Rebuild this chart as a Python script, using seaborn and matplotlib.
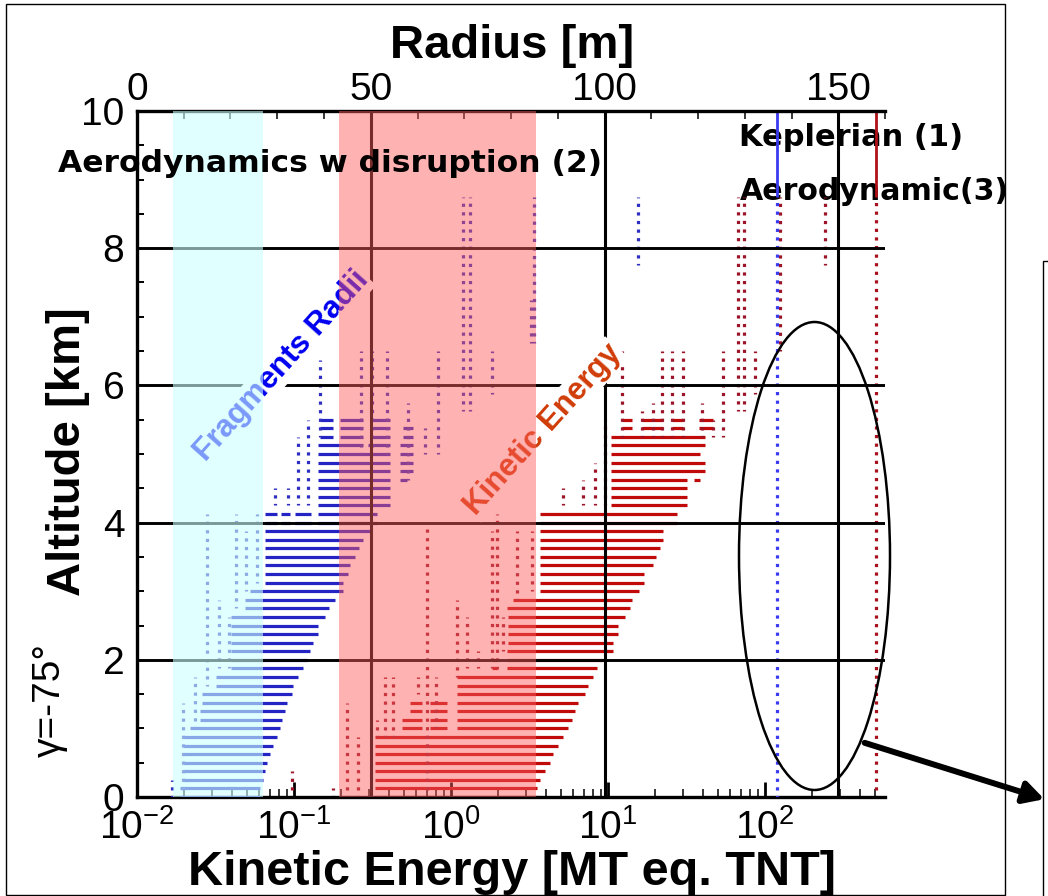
import matplotlib
matplotlib.use("Agg")
import matplotlib.pyplot as plt
import matplotlib.transforms as mtransforms
from matplotlib.patches import Ellipse, Rectangle, FancyArrowPatch
from matplotlib.ticker import LogLocator, MultipleLocator, NullFormatter
import pandas as pd
import seaborn as sns

# ---- fragments radii [m] (top axis) : dense rows (alt km, r start, r end)
blue_rows = [
    (0.0, 9.2, 26.3), (0.125, 9.2, 26.3), (0.25, 9.9, 26.9), (0.375, 9.9, 27.4),
    (0.5, 9.9, 27.8), (0.625, 9.9, 28.4), (0.75, 9.9, 29.1), (0.875, 9.9, 29.9),
    (1.0, 11.3, 30.6), (1.125, 13.5, 31.1), (1.25, 13.5, 31.6), (1.375, 13.8, 32.0),
    (1.5, 13.8, 33.1), (1.625, 17.0, 33.4), (1.75, 17.0, 34.5), (1.875, 20.2, 35.5),
    (2.0, 20.2, 36.3), (2.125, 20.2, 37.0), (2.25, 20.2, 37.6), (2.375, 20.2, 38.7),
    (2.5, 20.2, 38.7), (2.625, 20.2, 40.2), (2.75, 23.1, 41.0), (2.875, 23.1, 42.3),
    (3.0, 24.1, 44.0), (3.125, 27.4, 44.0), (3.25, 27.4, 45.1), (3.375, 27.4, 45.5),
    (3.5, 27.4, 46.6), (3.625, 27.4, 47.4), (3.75, 27.4, 48.3), (3.875, 27.4, 50.2),
    (4.0, 27.4, 29.9), (4.0, 30.9, 32.7), (4.0, 33.8, 37.3), (4.0, 38.7, 51.3),
    (4.125, 27.4, 29.9), (4.125, 30.9, 32.7), (4.125, 33.8, 37.3), (4.125, 38.7, 51.3),
    (4.25, 38.7, 54.1), (4.375, 38.7, 54.1), (4.5, 38.7, 54.1),
    (4.625, 38.7, 54.1), (4.625, 56.2, 57.7), (4.75, 38.7, 54.1), (4.75, 56.2, 59.0),
    (4.875, 38.7, 54.1), (4.875, 56.2, 59.0), (5.0, 38.7, 54.1), (5.0, 56.2, 59.0),
    (5.125, 38.7, 48.3), (5.125, 49.4, 54.1), (5.125, 56.2, 59.0),
    (5.25, 39.1, 42.0), (5.25, 43.4, 48.3), (5.25, 50.2, 54.1), (5.25, 56.8, 59.0),
    (5.375, 39.1, 42.0), (5.375, 43.4, 48.3), (5.375, 50.2, 54.1), (5.375, 56.8, 59.0),
    (5.5, 39.1, 42.0), (5.5, 43.4, 48.3), (5.5, 50.2, 54.1),
]
# sparse columns of fragments (radius m, alt low, alt high)
blue_cols = [
    (7.4, 0.0, 0.25), (9.9, 0.0, 1.375), (12.4, 1.0, 1.75), (15.0, 1.625, 4.125),
    (17.5, 1.875, 2.875), (19.7, 1.875, 2.625), (21.2, 2.75, 4.125), (23.4, 3.0, 3.875),
    (25.6, 3.125, 4.125), (29.5, 4.25, 4.5), (32.3, 4.25, 4.5), (34.5, 4.25, 5.25),
    (36.6, 4.25, 5.5), (39.1, 5.25, 6.375), (48.0, 5.0, 6.5), (50.2, 5.0, 6.5),
    (53.4, 5.0, 6.5), (57.9, 4.625, 5.75), (61.5, 5.0, 5.375), (64.3, 5.0, 6.5),
    (69.7, 5.625, 8.75), (71.2, 5.625, 8.75), (75.9, 5.875, 6.5), (84.2, 6.625, 7.25),
    (85.0, 6.625, 8.75), (107.1, 7.75, 8.75),
]

# ---- kinetic energy [MT] (bottom axis) : dense rows (alt km, KE start, KE end)
red_rows = [
    (0.0, 0.328, 3.69), (0.125, 0.328, 3.53), (0.25, 0.328, 3.69), (0.375, 0.328, 3.97),
    (0.5, 0.328, 4.27), (0.625, 0.328, 4.46), (0.75, 0.328, 4.81), (0.875, 0.328, 5.17),
    (1.0, 0.485, 0.650), (1.0, 0.735, 0.939), (1.0, 1.087, 5.56),
    (1.125, 0.485, 0.650), (1.125, 0.735, 0.939), (1.125, 1.087, 5.90),
    (1.25, 0.548, 0.650), (1.25, 0.735, 0.939), (1.25, 1.087, 6.17),
    (1.375, 0.548, 0.650), (1.375, 0.735, 0.939), (1.375, 1.087, 6.44),
    (1.5, 1.087, 7.14), (1.625, 1.087, 7.46), (1.75, 1.087, 8.02),
    (1.875, 1.82, 2.0), (1.875, 2.26, 8.51), (2.0, 1.82, 2.0), (2.0, 2.26, 9.29),
    (2.125, 2.26, 10.8), (2.25, 2.31, 10.8), (2.375, 2.31, 11.6), (2.5, 2.31, 11.6),
    (2.625, 2.31, 12.8), (2.75, 2.26, 13.8), (2.875, 2.48, 14.2), (3.0, 3.69, 15.7),
    (3.125, 3.69, 16.9), (3.25, 3.69, 16.9), (3.375, 3.69, 19.4), (3.5, 3.69, 20.2),
    (3.625, 3.69, 21.4), (3.75, 3.69, 22.4), (3.875, 3.69, 22.4), (4.0, 3.69, 27.5),
    (4.125, 3.69, 27.5), (4.25, 10.4, 31.8), (4.375, 10.4, 31.8), (4.5, 10.4, 31.8),
    (4.625, 10.4, 31.8), (4.625, 35.0, 38.5), (4.75, 10.4, 41.5), (4.875, 10.4, 41.5),
    (5.0, 10.4, 38.5), (5.125, 10.4, 41.5), (5.25, 10.4, 41.5),
    (5.375, 12.2, 14.2), (5.375, 16.4, 22.4), (5.375, 25.5, 30.2), (5.375, 38.0, 46.9),
    (5.5, 12.2, 14.2), (5.5, 16.4, 22.4), (5.5, 25.5, 30.2), (5.5, 38.0, 46.9),
]
red_cols = [
    (0.097, 0.0, 0.375), (0.177, 0.0, 0.125), (0.217, 0.0, 1.375), (0.257, 0.0, 0.875),
    (0.336, 0.875, 1.125), (0.380, 0.875, 1.75), (0.428, 0.875, 1.75), (0.617, 1.5, 1.75),
    (0.700, 0.0, 4.0), (0.802, 1.0, 1.75), (1.087, 1.75, 2.875), (1.259, 1.875, 2.625),
    (1.486, 1.875, 2.125), (1.824, 1.875, 3.875), (1.963, 1.875, 4.125), (2.143, 2.125, 2.625),
    (2.63, 2.875, 3.875), (3.28, 3.0, 3.875), (5.17, 4.25, 4.5), (6.93, 4.25, 4.625),
    (8.26, 4.25, 4.875), (9.57, 4.25, 5.5), (12.2, 5.25, 6.5), (16.4, 5.25, 5.625),
    (19.4, 5.25, 5.75), (22.0, 5.25, 6.5), (25.5, 5.25, 6.5), (30.2, 5.25, 6.5),
    (39.5, 5.25, 5.75), (46.9, 5.25, 5.5), (53.8, 5.25, 6.5), (67.3, 5.625, 8.75),
    (73.5, 5.625, 8.75), (86.3, 5.875, 6.5), (124.0, 6.5, 8.75), (241.0, 7.75, 8.75),
]

# intact body: Keplerian radius (1) and aerodynamic energy (3)
kepler_radius = 136.8
aero_energy = 509.0
intact_dotted = (0.0, 8.75)
intact_solid = (8.75, 10.0)

band_cyan = (0.017, 0.063)   # KE range
band_pink = (0.194, 3.47)    # KE range
grid_alt = [2, 4, 6, 8]
grid_radius = [50, 100, 150]
alt_ticks = [0, 2, 4, 6, 8, 10]
radius_ticks = [0, 50, 100, 150]

W, H = 1048, 896
LW = 2.3                       # ~3.2 px square marks
DOTS = (0.5, (1.0, 1.69))      # one mark every 0.125 km

sns.set_theme(style="white")
plt.rcParams["font.family"] = ["Liberation Sans", "DejaVu Sans"]
plt.rcParams["mathtext.fontset"] = "custom"
plt.rcParams["mathtext.rm"] = "Liberation Sans"
plt.rcParams["mathtext.it"] = "Liberation Sans:italic"
plt.rcParams["mathtext.bf"] = "Liberation Sans:bold"
plt.rcParams.update({"text.color": "black", "axes.labelcolor": "black",
                     "xtick.color": "black", "ytick.color": "black"})


def rows_frame(rows):
    n = len(rows)
    return pd.DataFrame({"x": [r[1] for r in rows] + [r[2] for r in rows],
                         "alt": [r[0] for r in rows] * 2,
                         "seg": list(range(n)) * 2})


def cols_frame(cols):
    n = len(cols)
    return pd.DataFrame({"x": [c[0] for c in cols] * 2,
                         "alt": [c[1] for c in cols] + [c[2] for c in cols],
                         "seg": list(range(n)) * 2})


def draw(ax, df, color, ls="-", lw=LW, z=2):
    sns.lineplot(data=df, x="x", y="alt", units="seg", estimator=None, sort=False,
                 ax=ax, color=color, lw=lw, linestyle=ls, legend=False, zorder=z,
                 solid_capstyle="butt", dash_capstyle="butt")


fig = plt.figure(figsize=(W / 100, H / 100), dpi=100)
ax = fig.add_axes([137 / W, 1 - 797 / H, 748 / W, 686 / H])
ax.set_xscale("log")
ax2 = ax.twiny()

# kinetic energy series
draw(ax, rows_frame(red_rows), "#c00a0a")
draw(ax, cols_frame(red_cols), "#9c1428", ls=DOTS)
draw(ax, cols_frame([(aero_energy, *intact_dotted)]), "#a8101e", ls=DOTS)
draw(ax, cols_frame([(aero_energy, *intact_solid)]), "#b01018", lw=2.0)

# radius series
draw(ax2, rows_frame(blue_rows), "#2424c4")
draw(ax2, cols_frame(blue_cols), "#2e2ec0", ls=DOTS)
draw(ax2, cols_frame([(kepler_radius, *intact_dotted)]), "#3a3af0", ls=DOTS)
draw(ax2, cols_frame([(kepler_radius, *intact_solid)]), "#3a3af0", lw=2.0)

ax.set_xlim(1e-2, 580)
ax.set_ylim(0, 10)
for a in (ax, ax2):
    a.set_xlabel("")
    a.set_ylabel("")

# grid lines
for a in grid_alt:
    ax2.axhline(a, color="black", lw=2.1, zorder=2.6)
for r in grid_radius:
    ax2.axvline(r, color="black", lw=2.2, zorder=2.6)

# shaded energy bands on top of everything
blend = mtransforms.blended_transform_factory(ax.transData, ax2.transAxes)
ax2.add_patch(Rectangle((band_cyan[0], 0), band_cyan[1] - band_cyan[0], 1, transform=blend,
                        facecolor=(0.8, 1.0, 1.0), alpha=0.6, lw=0, zorder=3))
ax2.add_patch(Rectangle((band_pink[0], 0), band_pink[1] - band_pink[0], 1, transform=blend,
                        facecolor=(1.0, 0.36, 0.36), alpha=0.47, lw=0, zorder=3))
ax2.set_xlim(0, 160)
ax2.set_ylim(0, 10)

# series labels
ax2.text(30.9, 6.28, "Fragments Radii", rotation=48, rotation_mode="anchor",
         ha="center", va="center", fontsize=22.5, fontweight="bold", color="#0000f0",
         bbox=dict(fc="white", ec="none", pad=1), zorder=2.8)
ax2.text(3.85, 5.36, "Kinetic Energy", rotation=48, rotation_mode="anchor",
         transform=ax.transData, ha="center", va="center", fontsize=22.5,
         fontweight="bold", color="#d03c08",
         bbox=dict(fc="white", ec="none", pad=1), zorder=2.8)

# axes styling
for s in ("top", "right"):
    ax.spines[s].set_visible(False)
for s in ("left", "bottom"):
    ax.spines[s].set_color("black")
    ax.spines[s].set_linewidth(2.4)
for s in ("left", "bottom", "right"):
    ax2.spines[s].set_visible(False)
ax2.spines["top"].set_color("black")
ax2.spines["top"].set_linewidth(2.4)

ax.xaxis.set_major_locator(LogLocator(base=10, numticks=10))
ax.xaxis.set_minor_locator(LogLocator(base=10, subs=range(2, 10), numticks=20))
ax.xaxis.set_minor_formatter(NullFormatter())
ax.tick_params(axis="x", which="major", direction="in", length=11, width=2,
               labelsize=28, pad=9, colors="black", top=False, bottom=True)
ax.tick_params(axis="x", which="minor", direction="in", length=6, width=1.1,
               colors="black", top=False, bottom=True)
ax.set_yticks(alt_ticks)
ax.yaxis.set_minor_locator(MultipleLocator(0.5))
ax.tick_params(axis="y", which="major", direction="in", length=0, labelsize=28,
               pad=9, colors="black", left=True, right=False)
ax.tick_params(axis="y", which="minor", direction="in", length=5, width=1.4,
               colors="black", left=True, right=False)
ax2.set_xticks(radius_ticks)
ax2.xaxis.set_minor_locator(MultipleLocator(10))
ax2.tick_params(axis="x", which="major", direction="in", length=0, labelsize=28,
                pad=2, colors="black", top=True, bottom=False)
ax2.tick_params(axis="x", which="minor", direction="in", length=6, width=1.1,
                colors="black", top=True, bottom=False)

# axis titles
fig.text(512 / W, 1 - 885 / H, "Kinetic Energy [MT eq. TNT]", ha="center", va="baseline",
         fontsize=35, fontweight="bold", color="black")
fig.text(512 / W, 1 - 58 / H, "Radius [m]", ha="center", va="baseline",
         fontsize=34, fontweight="bold", color="black")
fig.text(80 / W, 1 - 452 / H, "Altitude [km]", rotation=90, rotation_mode="anchor",
         ha="center", va="baseline", fontsize=34, fontweight="bold", color="black")
fig.text(60 / W, 1 - 700 / H, "γ=-75°", rotation=90, rotation_mode="anchor",
         ha="center", va="baseline", fontsize=28, color="black")

# annotations
ax2.text(58 / W, 1 - 172 / H, "Aerodynamics w disruption (2)", transform=fig.transFigure,
         ha="left", va="baseline", fontsize=22.6, fontweight="bold", color="black",
         family="DejaVu Sans", clip_on=False, zorder=4)
ax.text(739 / W, 1 - 146 / H, "Keplerian (1)", transform=fig.transFigure,
        ha="left", va="baseline", fontsize=22, fontweight="bold", color="black",
        family="DejaVu Sans", clip_on=False, zorder=1)
ax.text(740 / W, 1 - 200 / H, "Aerodynamic(3)", transform=fig.transFigure,
        ha="left", va="baseline", fontsize=21.6, fontweight="bold", color="black",
        family="DejaVu Sans", clip_on=False, zorder=1)

fig.add_artist(Ellipse((814.5 / W, 1 - 556 / H), 151 / W, 468 / H, fill=False,
                       ec="black", lw=1.8))
fig.add_artist(FancyArrowPatch((862 / W, 1 - 742 / H), (1047 / W, 1 - 800 / H),
                               transform=fig.transFigure,
                               arrowstyle="-|>,head_length=0.55,head_width=0.3",
                               mutation_scale=22, lw=4.3, color="black"))
fig.add_artist(Rectangle((6 / W, 1 - 895 / H), 999 / W, 891 / H, fill=False,
                         ec="black", lw=1.0))
fig.add_artist(Rectangle((1043 / W, -0.05), 0.1, 1 - 261 / H + 0.05, fill=False,
                         ec="black", lw=1.0))

fig.savefig("out.png", dpi=100, facecolor="white")
